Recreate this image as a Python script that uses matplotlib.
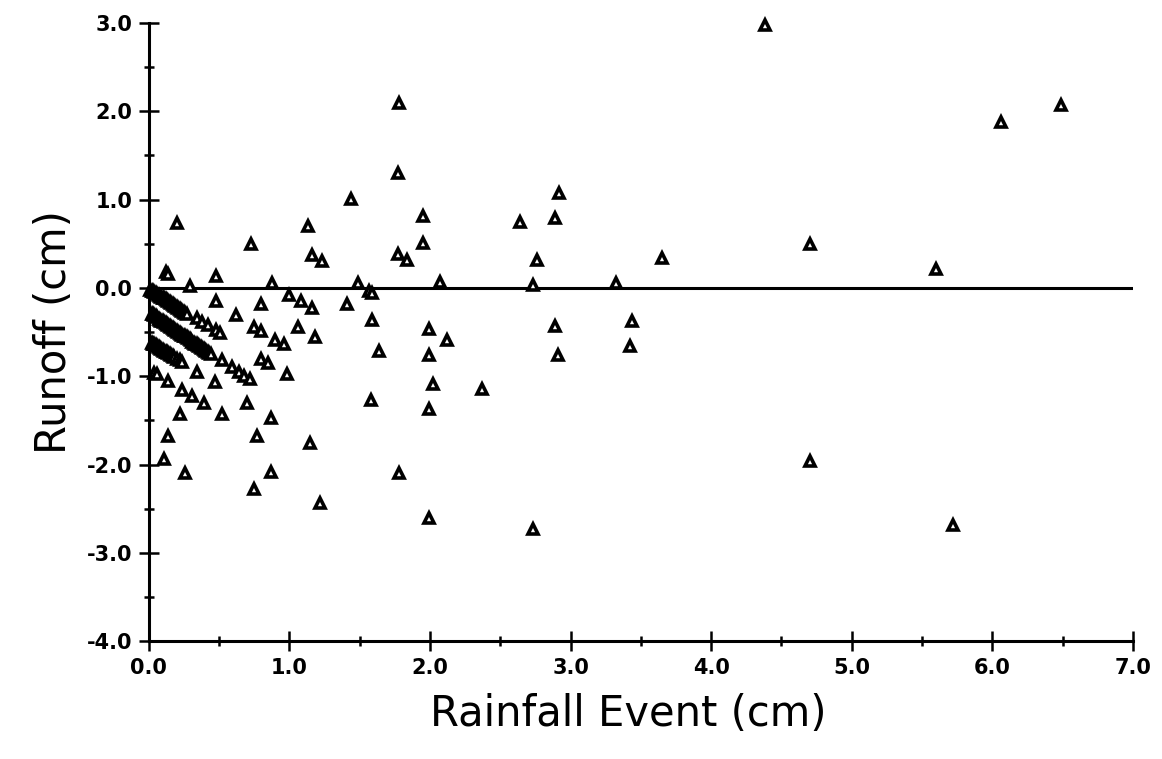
# Runoff residuals vs rainfall event size (scatter with open triangles)

import matplotlib
matplotlib.use("Agg")
import matplotlib.pyplot as plt
from matplotlib.ticker import MultipleLocator, FormatStrFormatter

# Dense diagonal bands near the origin (cm)
rain_band1 = [0.01, 0.02, 0.03, 0.04, 0.05, 0.06, 0.07, 0.08, 0.09, 0.10, 0.11, 0.12, 0.13, 0.14,
              0.15, 0.16, 0.17, 0.18, 0.19, 0.20, 0.21, 0.22, 0.23, 0.24, 0.25, 0.26, 0.27,
              0.34, 0.38, 0.42, 0.48, 0.51]
runoff_band1 = [-0.02, -0.03, -0.04, -0.05, -0.06, -0.07, -0.08, -0.09, -0.10, -0.11, -0.12, -0.13, -0.14, -0.15,
                -0.16, -0.17, -0.18, -0.19, -0.21, -0.22, -0.23, -0.24, -0.25, -0.26, -0.27, -0.28, -0.29,
                -0.34, -0.39, -0.42, -0.48, -0.51]

rain_band2 = [0.02, 0.03, 0.04, 0.05, 0.06, 0.07, 0.08, 0.09, 0.10, 0.11, 0.12, 0.13, 0.14, 0.15,
              0.16, 0.17, 0.18, 0.19, 0.20, 0.21, 0.22, 0.23, 0.24, 0.25, 0.26, 0.27, 0.28, 0.29,
              0.30, 0.31, 0.32, 0.33, 0.34, 0.35, 0.36, 0.37, 0.38, 0.39, 0.40, 0.41, 0.42, 0.43, 0.44,
              0.52, 0.59, 0.64, 0.68, 0.72]
runoff_band2 = [-0.29, -0.30, -0.31, -0.32, -0.33, -0.35, -0.36, -0.37, -0.38, -0.39, -0.40, -0.41, -0.42, -0.43,
                -0.44, -0.45, -0.46, -0.48, -0.49, -0.50, -0.51, -0.52, -0.53, -0.54, -0.55, -0.56, -0.57, -0.58,
                -0.59, -0.61, -0.62, -0.63, -0.64, -0.65, -0.66, -0.67, -0.68, -0.69, -0.70, -0.71, -0.72, -0.74, -0.75,
                -0.82, -0.90, -0.95, -1.00, -1.03]

rain_band3 = [0.02, 0.03, 0.04, 0.05, 0.06, 0.07, 0.08, 0.09, 0.10, 0.11, 0.12, 0.13, 0.14, 0.15,
              0.16, 0.17, 0.18, 0.20, 0.22, 0.24]
runoff_band3 = [-0.62, -0.63, -0.64, -0.65, -0.66, -0.67, -0.68, -0.69, -0.70, -0.71, -0.72, -0.73, -0.74, -0.75,
                -0.76, -0.77, -0.78, -0.80, -0.82, -0.84]

# Remaining scattered events (cm)
rain_other = [0.20, 0.12, 0.14, 0.29, 0.48, 0.73, 0.88, 1.00, 1.08, 1.16, 1.13, 1.16, 1.23, 1.44,
              1.78, 1.77, 1.95, 1.95, 1.77, 1.84, 1.49, 1.57, 1.59, 2.07, 1.41, 1.59, 1.06, 1.18,
              1.99, 2.12, 1.64, 1.99, 2.02, 2.37, 1.58, 1.99, 1.15, 1.78, 1.22, 1.99,
              2.92, 2.64, 2.89, 2.76, 3.65, 2.73, 3.32, 2.89, 3.44, 2.91, 3.42, 2.73,
              4.38, 4.70, 4.70, 5.60, 5.72, 6.06, 6.49,
              0.48, 0.80, 0.62, 0.75, 0.80, 0.90, 0.96, 0.80, 0.85, 0.98, 0.70, 0.87, 0.52,
              0.22, 0.39, 0.24, 0.31, 0.34, 0.47, 0.14, 0.04, 0.06, 0.14, 0.77, 0.11, 0.26,
              0.87, 0.75]
runoff_other = [0.73, 0.18, 0.16, 0.02, 0.14, 0.50, 0.05, -0.08, -0.15, -0.23, 0.70, 0.37, 0.30, 1.01,
                2.09, 1.30, 0.81, 0.51, 0.38, 0.31, 0.05, -0.03, -0.06, 0.07, -0.18, -0.36, -0.44, -0.56,
                -0.46, -0.59, -0.71, -0.76, -1.09, -1.14, -1.27, -1.37, -1.76, -2.09, -2.44, -2.60,
                1.07, 0.74, 0.79, 0.31, 0.34, 0.03, 0.06, -0.43, -0.38, -0.76, -0.66, -2.73,
                2.98, 0.50, -1.96, 0.21, -2.68, 1.88, 2.07,
                -0.15, -0.18, -0.31, -0.44, -0.49, -0.59, -0.64, -0.81, -0.85, -0.97, -1.30, -1.47, -1.43,
                -1.43, -1.30, -1.16, -1.22, -0.95, -1.07, -1.05, -0.96, -0.97, -1.68, -1.68, -1.94, -2.10,
                -2.08, -2.28]

fig = plt.figure(figsize=(11.62, 7.59), dpi=100)
ax = fig.add_axes([0.128, 0.155, 0.847, 0.815])

marker_style = dict(linestyle="none", marker="^", markersize=7, markerfacecolor="white",
                    markeredgecolor="black", markeredgewidth=2.6, clip_on=False, zorder=3)
for xs, ys in [(rain_band1, runoff_band1), (rain_band2, runoff_band2),
               (rain_band3, runoff_band3), (rain_other, runoff_other)]:
    ax.plot(xs, ys, **marker_style)

# zero reference line
ax.axhline(0, color="black", linewidth=2.2, zorder=2)

ax.set_xlim(0, 7)
ax.set_ylim(-4, 3)
ax.spines["top"].set_visible(False)
ax.spines["right"].set_visible(False)
for s in ["left", "bottom"]:
    ax.spines[s].set_linewidth(2.2)

ax.xaxis.set_major_locator(MultipleLocator(1))
ax.xaxis.set_minor_locator(MultipleLocator(0.5))
ax.yaxis.set_major_locator(MultipleLocator(1))
ax.yaxis.set_minor_locator(MultipleLocator(0.5))
ax.xaxis.set_major_formatter(FormatStrFormatter("%.1f"))
ax.yaxis.set_major_formatter(FormatStrFormatter("%.1f"))
ax.tick_params(which="major", direction="inout", length=14, width=1.8, labelsize=15, pad=5)
ax.tick_params(which="minor", direction="inout", length=7, width=1.8)
for lab in ax.get_xticklabels() + ax.get_yticklabels():
    lab.set_fontweight("bold")

ax.set_xlabel("Rainfall Event (cm)", fontsize=30)
ax.xaxis.set_label_coords(0.487, -0.083)
ax.set_ylabel("Runoff (cm)", fontsize=30, labelpad=8)

fig.savefig("out.png", dpi=100)
